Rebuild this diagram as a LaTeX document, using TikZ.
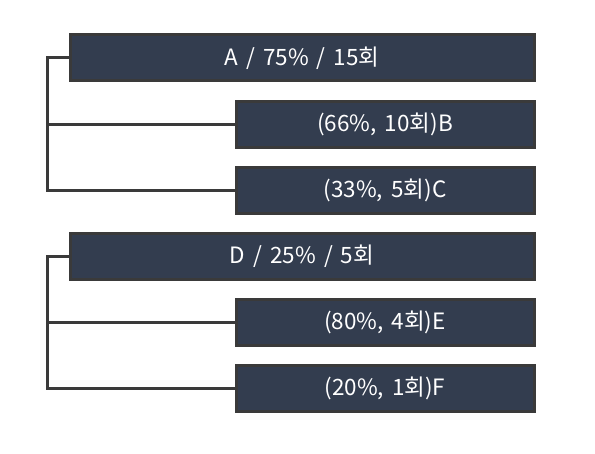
\documentclass[tikz,border=0pt]{standalone}
\usepackage{fontspec}
\setmainfont{Noto Sans CJK KR}[WordSpace=1.6]
\definecolor{boxfill}{HTML}{333D4F}
\definecolor{edge}{HTML}{3A3A3A}
\begin{document}
\begin{tikzpicture}[x=1pt,y=-1pt,
  bar/.style={draw=edge,line width=3pt,fill=boxfill,text=white,inner sep=0pt,
    font=\fontsize{22.5}{22.5}\selectfont},
  link/.style={draw=edge,line width=3pt,line cap=rect}]
\useasboundingbox (0,0) rectangle (595,454);
\node[bar,minimum width=464pt,minimum height=46pt] (A) at (302,58) {A / 75\% / 15회};
\node[bar,minimum width=298pt,minimum height=46pt] (B) at (385,124.5) {(66\%, 10회)B};
\node[bar,minimum width=298pt,minimum height=46pt] (C) at (385,190.5) {(33\%, 5회)C};
\node[bar,minimum width=464pt,minimum height=46pt] (D) at (302,256.5) {D / 25\% / 5회};
\node[bar,minimum width=298pt,minimum height=46pt] (E) at (385,322.5) {(80\%, 4회)E};
\node[bar,minimum width=298pt,minimum height=46pt] (F) at (385,388.5) {(20\%, 1회)F};
\coordinate (a1) at (47,58);
\coordinate (d1) at (47,256.5);
\draw[link] (A.west) -- (a1) |- (C.west);
\draw[link] (a1 |- B.west) -- (B.west);
\draw[link] (D.west) -- (d1) |- (F.west);
\draw[link] (d1 |- E.west) -- (E.west);
\end{tikzpicture}
\end{document}
